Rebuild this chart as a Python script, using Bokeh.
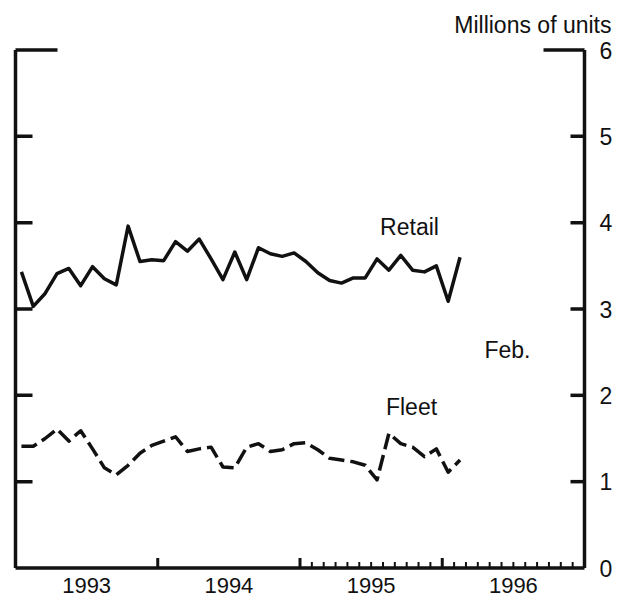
from bokeh.plotting import figure
from bokeh.models import Label, Range1d
from bokeh.embed import file_html
from bokeh.resources import INLINE

# ---- data (millions of units, monthly, Jan 1993 - Feb 1996) ----
start_year = 1993
n_months = 38
retail = [3.43, 3.03, 3.18, 3.41, 3.47, 3.27, 3.49, 3.35, 3.28, 3.96, 3.55, 3.57,
          3.56, 3.78, 3.67, 3.81, 3.58, 3.34, 3.66, 3.34, 3.71, 3.64, 3.61, 3.65,
          3.55, 3.42, 3.33, 3.30, 3.36, 3.36, 3.58, 3.45, 3.62, 3.45, 3.43, 3.50,
          3.09, 3.60]
fleet = [1.41, 1.41, 1.50, 1.61, 1.47, 1.59, 1.38, 1.16, 1.08, 1.19, 1.33, 1.42,
         1.47, 1.52, 1.35, 1.38, 1.40, 1.17, 1.16, 1.40, 1.44, 1.35, 1.37, 1.44,
         1.45, 1.37, 1.27, 1.25, 1.23, 1.19, 1.02, 1.56, 1.44, 1.40, 1.29, 1.38,
         1.11, 1.25]
year_labels = ["1993", "1994", "1995", "1996"]
y_ticks = [0, 1, 2, 3, 4, 5, 6]

# month mid-points as fractional years
months = [start_year + (m + 0.5) / 12 for m in range(n_months)]

W, H = 621, 600
X0, X1 = 1993.0, 1997.0
LEFT_PX, RIGHT_PX = 15.0, 584.0
TOP_PX, BOT_PX = 49.5, 567.5
PXX = (RIGHT_PX - LEFT_PX) / (X1 - X0)
PXY = (BOT_PX - TOP_PX) / 6.0
xmin = X0 - LEFT_PX / PXX
xmax = xmin + W / PXX
ymax = 6 + TOP_PX / PXY
ymin = ymax - H / PXY


def X(px):
    return xmin + px / PXX


def Y(py):
    return ymax - py / PXY


FONT = "Liberation Sans"
FS = "23px"
black = "#111111"
AW = 3.5

p = figure(width=W, height=H,
           x_range=Range1d(xmin, xmax), y_range=Range1d(ymin, ymax),
           x_axis_type=None, y_axis_type=None,
           min_border=0, min_border_left=0, min_border_right=0,
           min_border_top=0, min_border_bottom=0,
           output_backend="svg", toolbar_location=None)
p.outline_line_color = None
p.grid.visible = False
p.background_fill_color = "white"
p.border_fill_color = "white"

# frame lines (left, right, bottom)
p.segment(x0=[X0, X1, X0], y0=[0, 0, 0], x1=[X0, X1, X1], y1=[6, 6, 0],
          line_width=AW, line_color=black)
# top brackets
p.segment(x0=[X0, X1 - 41 / PXX], y0=[6, 6], x1=[X0 + 42 / PXX, X1], y1=[6, 6],
          line_width=AW, line_color=black)
# left / right inward ticks
yt = y_ticks[1:-1]
p.segment(x0=[X0] * len(yt), y0=yt, x1=[X0 + 17 / PXX] * len(yt), y1=yt,
          line_width=AW, line_color=black)
p.segment(x0=[X1] * len(yt), y0=yt, x1=[X1 - 14 / PXX] * len(yt), y1=yt,
          line_width=AW, line_color=black)
# bottom ticks
major_x = [1994.0, 1995.0, 1996.0]
p.segment(x0=major_x, y0=[0] * 3, x1=major_x, y1=[10 / PXY] * 3,
          line_width=3, line_color=black)
minor_x = [1995 + k / 12 for k in range(1, 24) if k != 12]
p.segment(x0=minor_x, y0=[0] * len(minor_x), x1=minor_x, y1=[6 / PXY] * len(minor_x),
          line_width=2, line_color=black)

# series
p.line(months, retail, line_width=3.5, line_color=black, line_join="round")
p.line(months, fleet, line_width=3.5, line_color=black, line_dash="16 6",
       line_join="round")


def lab(x, y, t, align="center", base="middle", fs=FS):
    p.add_layout(Label(x=x, y=y, text=t, text_font=FONT, text_font_size=fs,
                       text_color=black, text_align=align, text_baseline=base))


for i, t in enumerate(year_labels):
    lab(X0 + 0.5 + i, Y(585), t, fs="22px")
for v in y_ticks:
    lab(X(599), v, str(v), align="left")
lab(X(611), Y(24), "Millions of units", align="right")
lab(X(409), Y(226), "Retail")
lab(X(411), Y(406), "Fleet")
lab(X(507), Y(349), "Feb.")

open("out.html", "w").write(file_html(p, INLINE))
